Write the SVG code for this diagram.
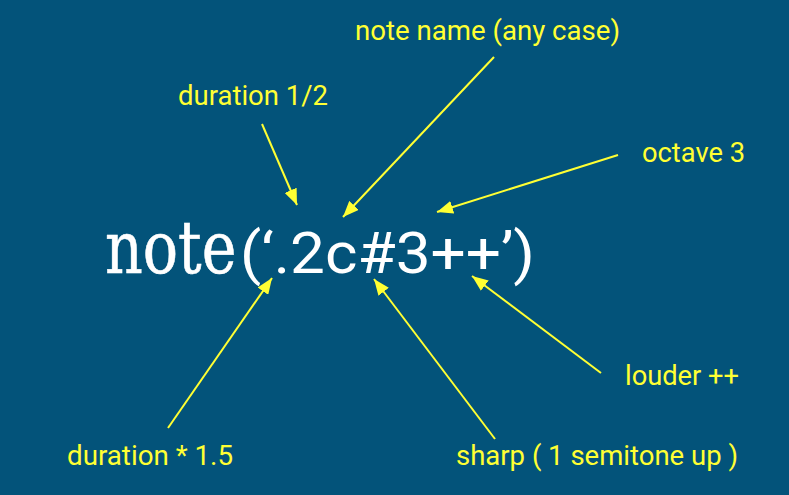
<svg xmlns="http://www.w3.org/2000/svg" width="789" height="495" viewBox="0 0 789 495">
<defs>
<style>
.lbl{font-family:Roboto,"Liberation Sans",sans-serif;font-size:27px;fill:#FFFF33;}
.conn line{stroke:#FFFF33;stroke-width:2;marker-end:url(#ah);}
.main{fill:#FFFFFF;}
</style>
<marker id="ah" markerUnits="userSpaceOnUse" markerWidth="17" markerHeight="13" refX="16" refY="6.5" orient="auto" viewBox="0 0 17 13">
<path d="M0,0 L16,6.5 L0,13 Z" fill="#FFFF33"/>
</marker>
</defs>
<rect width="789" height="495" fill="#03537A"/>
<g id="expression" class="main">
<text transform="translate(105,273) scale(0.815,1)" font-family="'DejaVu Serif',serif" font-size="72" stroke="#FFFFFF" stroke-width="0.6">note</text>
<text x="240" y="273" font-family="Roboto,'Liberation Sans',sans-serif" font-size="58" textLength="295" lengthAdjust="spacingAndGlyphs">(‘.2c#3++’)</text>
</g>
<g id="label-note-name"><text class="lbl" x="355" y="40" textLength="265" lengthAdjust="spacingAndGlyphs">note name (any case)</text></g>
<g id="label-duration-half"><text class="lbl" x="178" y="105" textLength="150" lengthAdjust="spacingAndGlyphs">duration 1/2</text></g>
<g id="label-octave"><text class="lbl" x="642" y="162" textLength="103" lengthAdjust="spacingAndGlyphs">octave 3</text></g>
<g id="label-louder"><text class="lbl" x="625" y="385" textLength="114" lengthAdjust="spacingAndGlyphs">louder ++</text></g>
<g id="label-sharp"><text class="lbl" x="456" y="465" textLength="282" lengthAdjust="spacingAndGlyphs">sharp ( 1 semitone up )</text></g>
<g id="label-duration-dot"><text class="lbl" x="67" y="465" textLength="166" lengthAdjust="spacingAndGlyphs">duration * 1.5</text></g>
<g id="connectors" class="conn">
<line x1="262" y1="124" x2="297" y2="205"/>
<line x1="494" y1="57" x2="343" y2="217"/>
<line x1="618" y1="155" x2="437" y2="212"/>
<line x1="601" y1="373" x2="472" y2="276"/>
<line x1="495" y1="439" x2="374" y2="279"/>
<line x1="168" y1="428" x2="272" y2="278"/>
</g>
</svg>
